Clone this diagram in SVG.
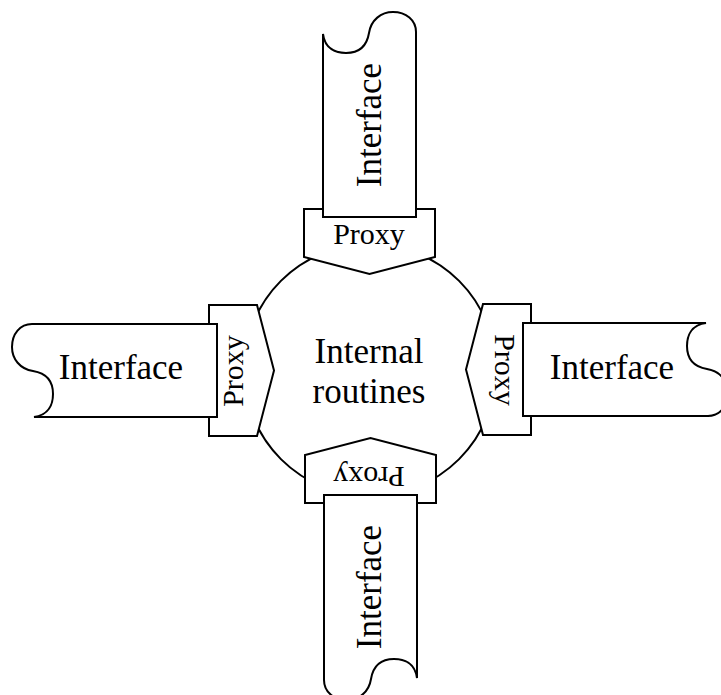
<svg xmlns="http://www.w3.org/2000/svg" width="721" height="695" viewBox="0 0 721 695">
  <defs>
    <style>
      .shape { fill: #ffffff; stroke: #000000; stroke-width: 2; stroke-linejoin: miter; }
      .txt { font-family: "Liberation Serif", "Times New Roman", serif; fill: #000000; text-anchor: middle; }
      .big { font-size: 35px; }
      .small { font-size: 30px; }
    </style>
    <!-- Proxy plate, drawn for the top position; other positions rotate it -->
    <path id="proxyShape" d="M304,209 H435 V257 L369.5,274 L304,257 Z"/>
    <!-- Interface scroll, drawn for the top position -->
    <path id="ifaceShape" d="M323,217 V34 C325,49 336,53 346,53 C360,53 367,45 369,33 C371,20 381,12 393,12 C406,12 416,20 416,32 V217 Z"/>
  </defs>

  <rect width="721" height="695" fill="#ffffff"/>

  <!-- core -->
  <g id="core">
    <circle class="shape" cx="370" cy="370" r="126"/>
    <text class="txt big" x="369" y="363">Internal</text>
    <text class="txt big" x="369" y="403">routines</text>
  </g>

  <!-- top -->
  <g id="proxy-top">
    <use href="#proxyShape" class="shape"/>
    <text class="txt small" x="369" y="244">Proxy</text>
  </g>
  <g id="interface-top">
    <use href="#ifaceShape" class="shape"/>
    <text class="txt big" transform="translate(381,125) rotate(-90)">Interface</text>
  </g>

  <!-- left -->
  <g id="proxy-left">
    <use href="#proxyShape" class="shape" transform="rotate(-90 370 370)"/>
    <text class="txt small" transform="translate(243,371) rotate(-90)">Proxy</text>
  </g>
  <g id="interface-left">
    <use href="#ifaceShape" class="shape" transform="rotate(-90 370 370)"/>
    <text class="txt big" x="121" y="379">Interface</text>
  </g>

  <!-- right -->
  <g id="proxy-right">
    <use href="#proxyShape" class="shape" transform="rotate(90 370 370)"/>
    <text class="txt small" transform="translate(495,370) rotate(90)">Proxy</text>
  </g>
  <g id="interface-right">
    <use href="#ifaceShape" class="shape" transform="rotate(90 370 370)"/>
    <text class="txt big" x="612" y="379">Interface</text>
  </g>

  <!-- bottom -->
  <g id="proxy-bottom">
    <use href="#proxyShape" class="shape" transform="rotate(180 370 356)"/>
    <text class="txt small" transform="translate(369,467) rotate(180)">Proxy</text>
  </g>
  <g id="interface-bottom">
    <use href="#ifaceShape" class="shape" transform="rotate(180 370 356)"/>
    <text class="txt big" transform="translate(381,587) rotate(-90)">Interface</text>
  </g>

  <!-- no connectors in this diagram -->
  <g id="connectors"/>
</svg>
